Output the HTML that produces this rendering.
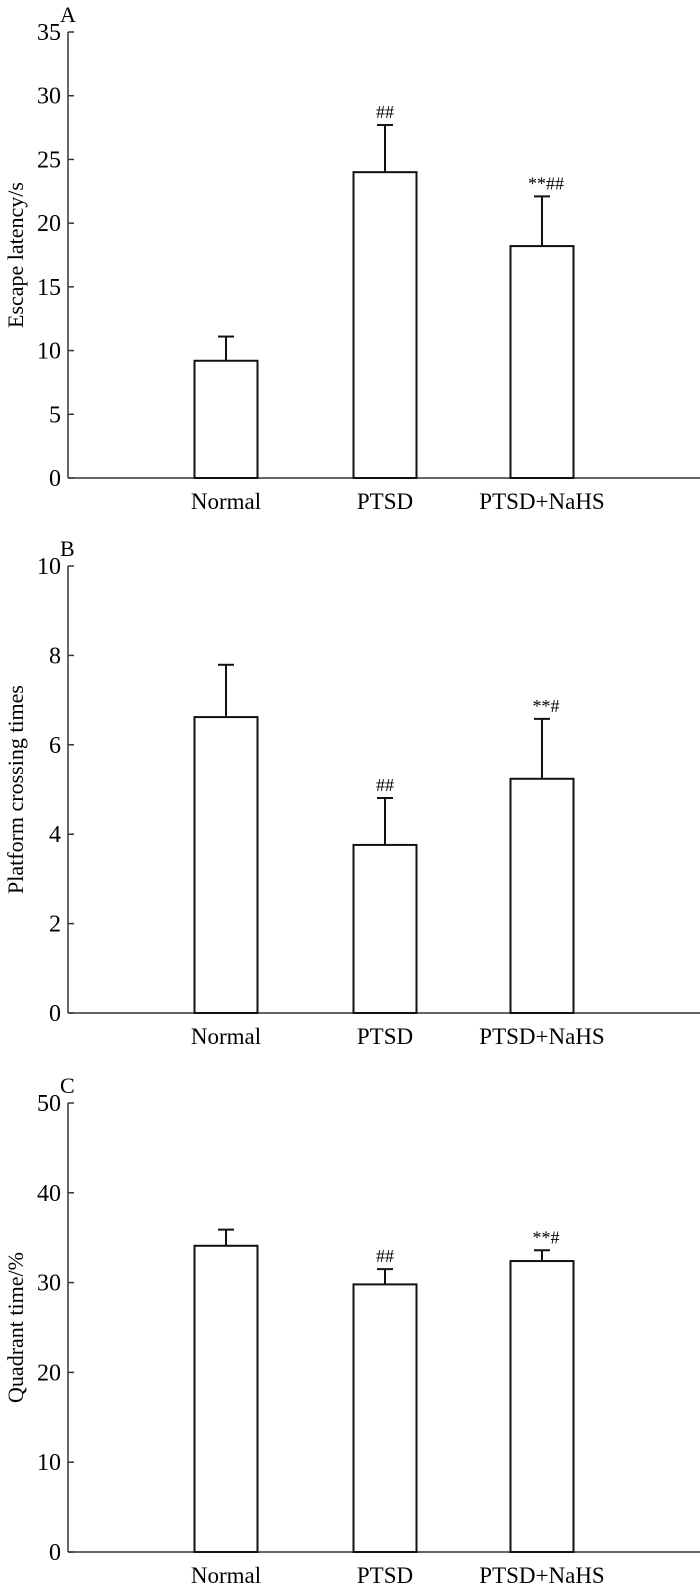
<!DOCTYPE html>
<html><head><meta charset="utf-8"><style>
html,body{margin:0;padding:0;background:#fff;}
svg{display:block;font-family:"Liberation Serif",serif;}
</style></head><body>
<svg id="chart" width="700" height="1585" viewBox="0 0 700 1585"></svg>
<script>
const categories = ["Normal", "PTSD", "PTSD+NaHS"];
const aValues = [9.2, 24.0, 18.2];
const aErrors = [1.9, 3.7, 3.9];
const aTicks = [0, 5, 10, 15, 20, 25, 30, 35];
const aMarks = ["", "##", "**##"];
const bValues = [6.62, 3.76, 5.24];
const bErrors = [1.17, 1.05, 1.34];
const bTicks = [0, 2, 4, 6, 8, 10];
const bMarks = ["", "##", "**#"];
const cValues = [34.1, 29.8, 32.4];
const cErrors = [1.8, 1.7, 1.2];
const cTicks = [0, 10, 20, 30, 40, 50];
const cMarks = ["", "##", "**#"];

const NS = "http://www.w3.org/2000/svg";
const svg = document.getElementById("chart");
function mk(tag, attrs, parent) {
  const e = document.createElementNS(NS, tag);
  for (const k in attrs) e.setAttribute(k, attrs[k]);
  (parent || svg).appendChild(e);
  return e;
}
const centers = [226, 385, 542];
const barW = 63;

function panel(letter, title, values, errors, ticks, marks, top, bottom, id) {
  const g = mk("g", {});
  
  
  const yMax = ticks[ticks.length - 1];
  const y = v => bottom - (v / yMax) * (bottom - top);
  const x0 = 68;
  const lt = mk("text", {x: x0 - 8, y: top - 10, "font-size": 22, "text-anchor": "start"}, g);
  lt.textContent = letter;
  
  
  const ax = mk("line", {x1: x0, y1: top, x2: x0, y2: bottom, stroke: "#333", "stroke-width": 1.5}, g);
  
  
  const xa = mk("line", {x1: x0, y1: bottom, x2: 700, y2: bottom, stroke: "#333", "stroke-width": 1.5}, g);
  
  
  ticks.forEach(t => {
    const tl = mk("line", {x1: x0, y1: y(t), x2: x0 + 6, y2: y(t), stroke: "#333", "stroke-width": 1.5}, g);
    
    
    const tx = mk("text", {x: x0 - 7, y: y(t) + 8, "font-size": 24, "text-anchor": "end"}, g);
    tx.textContent = t;
    
    
  });
  const yt = mk("text", {x: 0, y: 0, "font-size": 22, "text-anchor": "middle",
    transform: "translate(23," + ((top + bottom) / 2) + ") rotate(-90)"}, g);
  yt.textContent = title;
  
  
  categories.forEach((c, i) => {
    const cx = centers[i];
    const v = values[i], e = errors[i];
    const el = mk("line", {x1: cx, y1: y(v), x2: cx, y2: y(v + e), stroke: "#111", "stroke-width": 2}, g);
    
    
    const cap = mk("line", {x1: cx - 8, y1: y(v + e), x2: cx + 8, y2: y(v + e), stroke: "#111", "stroke-width": 2}, g);
    
    
    const r = mk("rect", {x: cx - barW / 2, y: y(v), width: barW, height: bottom - y(v), fill: "#fff", stroke: "#111", "stroke-width": 2}, g);
    
    
    const lab = mk("text", {x: cx, y: bottom + 31, "font-size": 23, "text-anchor": "middle"}, g);
    lab.textContent = c;
    
    
    if (marks[i]) {
      const m = mk("text", {x: cx + (marks[i].startsWith("*") ? 4 : 0), y: y(v + e) - 7, "font-size": 18, "text-anchor": "middle"}, g);
      m.textContent = marks[i];
      
      
    }
  });
}
panel("A", "Escape latency/s", aValues, aErrors, aTicks, aMarks, 32, 478, "a");
panel("B", "Platform crossing times", bValues, bErrors, bTicks, bMarks, 566, 1013, "b");
panel("C", "Quadrant time/%", cValues, cErrors, cTicks, cMarks, 1103, 1552, "c");
</script>
</body></html>
